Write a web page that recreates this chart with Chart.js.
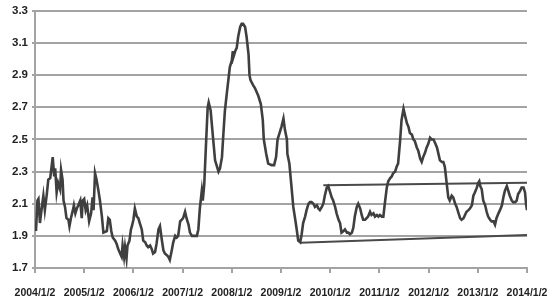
<!DOCTYPE html>
<html>
<head>
<meta charset="utf-8">
<script src="https://cdn.jsdelivr.net/npm/chart.js@4"></script>
<style>
  html, body { margin: 0; padding: 0; background: #fff; }
  #wrap { width: 550px; height: 308px; position: relative; }
</style>
</head>
<body>
<div id="wrap"><canvas id="grafico"></canvas></div>
<script>
// fechas en años decimales (2004.00 = 2004/1/2)
const fechas = [
  2004.02, 2004.05, 2004.07, 2004.10, 2004.14, 2004.17, 2004.20, 2004.24, 2004.27, 2004.31,
  2004.36, 2004.39, 2004.41, 2004.44, 2004.47, 2004.51, 2004.53, 2004.56, 2004.58, 2004.61,
  2004.64, 2004.68, 2004.70, 2004.73, 2004.77, 2004.79, 2004.82, 2004.85, 2004.88, 2004.92,
  2004.95, 2004.97, 2005.00, 2005.03, 2005.06, 2005.10, 2005.14, 2005.17, 2005.19, 2005.22,
  2005.25, 2005.29, 2005.32, 2005.36, 2005.39, 2005.46, 2005.49, 2005.52, 2005.55, 2005.58,
  2005.63, 2005.66, 2005.69, 2005.73, 2005.76, 2005.78, 2005.81, 2005.83, 2005.86, 2005.88,
  2005.92, 2005.95, 2005.97, 2006.00, 2006.03, 2006.07, 2006.10, 2006.13, 2006.17, 2006.20,
  2006.24, 2006.27, 2006.30, 2006.34, 2006.37, 2006.40, 2006.44, 2006.47, 2006.51, 2006.54,
  2006.58, 2006.61, 2006.64, 2006.68, 2006.71, 2006.74, 2006.78, 2006.81, 2006.85, 2006.88,
  2006.91, 2006.95, 2006.98, 2007.01, 2007.05, 2007.08, 2007.12, 2007.15, 2007.19, 2007.22,
  2007.25, 2007.29, 2007.32, 2007.35, 2007.39, 2007.41, 2007.44, 2007.48, 2007.51, 2007.53,
  2007.57, 2007.61, 2007.66, 2007.69, 2007.73, 2007.76, 2007.80, 2007.83, 2007.86, 2007.90,
  2007.93, 2007.96, 2008.00, 2008.02, 2008.03, 2008.07, 2008.10, 2008.13, 2008.17, 2008.20,
  2008.23, 2008.27, 2008.30, 2008.34, 2008.36, 2008.38, 2008.43, 2008.47, 2008.54, 2008.59,
  2008.63, 2008.65, 2008.70, 2008.74, 2008.81, 2008.86, 2008.90, 2008.93, 2008.97, 2009.01,
  2009.05, 2009.08, 2009.12, 2009.13, 2009.17, 2009.20, 2009.25, 2009.31, 2009.35, 2009.39,
  2009.42, 2009.45, 2009.49, 2009.52, 2009.56, 2009.59, 2009.62, 2009.66, 2009.69, 2009.73,
  2009.76, 2009.79, 2009.83, 2009.86, 2009.89, 2009.93, 2009.96, 2010.00, 2010.03, 2010.06,
  2010.10, 2010.13, 2010.17, 2010.20, 2010.23, 2010.27, 2010.30, 2010.34, 2010.37, 2010.40,
  2010.44, 2010.47, 2010.50, 2010.54, 2010.57, 2010.61, 2010.64, 2010.67, 2010.71, 2010.74,
  2010.77, 2010.81, 2010.84, 2010.88, 2010.91, 2010.95, 2010.98, 2011.01, 2011.05, 2011.08,
  2011.11, 2011.15, 2011.18, 2011.22, 2011.25, 2011.28, 2011.32, 2011.35, 2011.38, 2011.42,
  2011.45, 2011.49, 2011.52, 2011.56, 2011.59, 2011.62, 2011.66, 2011.69, 2011.72, 2011.76,
  2011.79, 2011.83, 2011.86, 2011.89, 2011.93, 2011.96, 2011.99, 2012.03, 2012.06, 2012.10,
  2012.13, 2012.17, 2012.20, 2012.23, 2012.27, 2012.30, 2012.33, 2012.37, 2012.40, 2012.43,
  2012.47, 2012.50, 2012.54, 2012.57, 2012.60, 2012.64, 2012.67, 2012.71, 2012.74, 2012.77,
  2012.81, 2012.84, 2012.88, 2012.91, 2012.94, 2012.98, 2013.01, 2013.03, 2013.05, 2013.08,
  2013.11, 2013.15, 2013.18, 2013.21, 2013.25, 2013.28, 2013.32, 2013.35, 2013.38, 2013.42,
  2013.45, 2013.49, 2013.52, 2013.55, 2013.59, 2013.62, 2013.65, 2013.69, 2013.72, 2013.76,
  2013.79, 2013.82, 2013.86, 2013.89, 2013.93, 2013.96, 2013.98, 2014.00
];

const valores = [
  1.93, 2.12, 2.13, 1.98, 2.08, 2.15, 2.06, 2.16, 2.25, 2.26,
  2.39, 2.27, 2.32, 2.17, 2.23, 2.19, 2.31, 2.25, 2.12, 2.08,
  2.01, 2.00, 1.96, 2.01, 2.06, 2.09, 2.04, 2.07, 2.09, 2.12,
  2.01, 2.12, 2.13, 2.06, 2.09, 1.99, 2.04, 2.14, 2.06, 2.29,
  2.25, 2.18, 2.12, 2.02, 1.92, 1.93, 2.01, 2.00, 1.93, 1.89,
  1.87, 1.85, 1.82, 1.79, 1.77, 1.84, 1.77, 1.83, 1.76, 1.84,
  1.87, 1.94, 1.96, 2.00, 2.07, 2.02, 2.01, 1.98, 1.94, 1.87,
  1.86, 1.84, 1.83, 1.84, 1.82, 1.79, 1.80, 1.85, 1.94, 1.96,
  1.87, 1.81, 1.79, 1.78, 1.77, 1.75, 1.81, 1.86, 1.90, 1.89,
  1.90, 1.99, 2.00, 2.01, 2.05, 2.01, 1.97, 1.92, 1.90, 1.90,
  1.90, 1.90, 1.94, 2.07, 2.18, 2.12, 2.22, 2.50, 2.70, 2.73,
  2.68, 2.54, 2.37, 2.34, 2.30, 2.32, 2.39, 2.54, 2.68, 2.79,
  2.87, 2.95, 2.99, 3.05, 3.01, 3.05, 3.07, 3.14, 3.20, 3.22,
  3.22, 3.20, 3.14, 3.03, 2.90, 2.87, 2.84, 2.82, 2.77, 2.72,
  2.62, 2.50, 2.41, 2.35, 2.34, 2.34, 2.39, 2.50, 2.54, 2.58,
  2.63, 2.56, 2.50, 2.41, 2.35, 2.25, 2.08, 1.96, 1.87, 1.86,
  1.91, 1.98, 2.02, 2.06, 2.10, 2.11, 2.11, 2.10, 2.08, 2.09,
  2.07, 2.06, 2.08, 2.10, 2.15, 2.20, 2.21, 2.17, 2.14, 2.12,
  2.08, 2.04, 2.00, 1.98, 1.92, 1.93, 1.94, 1.92, 1.92, 1.91,
  1.92, 1.95, 2.02, 2.08, 2.10, 2.07, 2.03, 2.00, 2.00, 2.01,
  2.02, 2.05, 2.03, 2.04, 2.02, 2.03, 2.02, 2.03, 2.02, 2.02,
  2.10, 2.20, 2.24, 2.26, 2.27, 2.29, 2.30, 2.33, 2.35, 2.49,
  2.62, 2.69, 2.65, 2.60, 2.58, 2.54, 2.53, 2.50, 2.49, 2.45,
  2.43, 2.38, 2.36, 2.39, 2.42, 2.45, 2.47, 2.51, 2.50, 2.50,
  2.48, 2.45, 2.41, 2.37, 2.36, 2.36, 2.33, 2.22, 2.14, 2.12,
  2.15, 2.14, 2.10, 2.08, 2.05, 2.01, 2.00, 2.01, 2.03, 2.05,
  2.06, 2.07, 2.09, 2.15, 2.17, 2.20, 2.23, 2.24, 2.21, 2.19,
  2.12, 2.09, 2.05, 2.02, 2.00, 1.99, 1.99, 1.97, 2.01, 2.04,
  2.06, 2.09, 2.14, 2.18, 2.21, 2.18, 2.15, 2.12, 2.11, 2.11,
  2.12, 2.16, 2.18, 2.20, 2.20, 2.17, 2.10, 2.06
];

// líneas de tendencia (canal)
const techoX = [2009.86, 2014.00];
const techoY = [2.215, 2.23];
const sueloX = [2009.39, 2014.00];
const sueloY = [1.857, 1.905];

const ticksY = [1.7, 1.9, 2.1, 2.3, 2.5, 2.7, 2.9, 3.1, 3.3];
const ticksX = [2004, 2005, 2006, 2007, 2008, 2009, 2010, 2011, 2012, 2013, 2014];
const etiquetasX = ['2004/1/2', '2005/1/2', '2006/1/2', '2007/1/2', '2008/1/2', '2009/1/2',
  '2010/1/2', '2011/1/2', '2012/1/2', '2013/1/2', '2014/1/2'];

const fuente = "'Liberation Sans Narrow', 'Liberation Sans', sans-serif";
const gris = '#a3a3a3';

function puntos(xs, ys) {
  return xs.map((x, i) => ({ x: x, y: ys[i] }));
}

const ctx = document.getElementById('grafico').getContext('2d');
const miGrafico = new Chart(ctx, {
  type: 'line',
  data: {
    datasets: [
      {
        data: puntos(fechas, valores),
        borderColor: '#3f3f3f',
        borderWidth: 2.6,
        pointRadius: 0,
        tension: 0
      },
      {
        data: puntos(techoX, techoY),
        borderColor: '#4a4a4a',
        borderWidth: 2,
        pointRadius: 0
      },
      {
        data: puntos(sueloX, sueloY),
        borderColor: '#4a4a4a',
        borderWidth: 2,
        pointRadius: 0
      }
    ]
  },
  options: {
    responsive: true,
    maintainAspectRatio: false,
    animation: false,
    layout: { padding: { top: 10, right: 23, left: 0, bottom: 0 } },
    plugins: {
      legend: { display: false },
      tooltip: { enabled: false }
    },
    scales: {
      x: {
        type: 'linear',
        min: 2004,
        max: 2014,
        afterBuildTicks: function(scale) {
          scale.ticks = ticksX.map(v => ({ value: v }));
        },
        afterFit: function(scale) {
          scale.height = 40;
          scale.paddingLeft = 0;
          scale.paddingRight = 0;
        },
        border: { display: true, color: gris, width: 2 },
        grid: {
          drawOnChartArea: false,
          drawTicks: true,
          tickLength: 5,
          color: gris,
          lineWidth: 2
        },
        ticks: {
          maxRotation: 0,
          autoSkip: false,
          padding: 14,
          color: '#222',
          font: { family: fuente, size: 10.5, weight: 'bold' },
          callback: function(value, index) { return etiquetasX[index]; }
        }
      },
      y: {
        min: 1.7,
        max: 3.3,
        afterBuildTicks: function(scale) {
          scale.ticks = ticksY.map(v => ({ value: v }));
        },
        afterFit: function(scale) { scale.width = 35; },
        border: { display: true, color: gris, width: 2 },
        grid: {
          color: gris,
          lineWidth: 2,
          drawTicks: true,
          tickLength: 3
        },
        ticks: {
          padding: 4,
          color: '#222',
          font: { family: fuente, size: 11.5, weight: 'bold' },
          callback: function(value) { return value.toFixed(1); }
        }
      }
    }
  }
});
</script>
</body>
</html>
